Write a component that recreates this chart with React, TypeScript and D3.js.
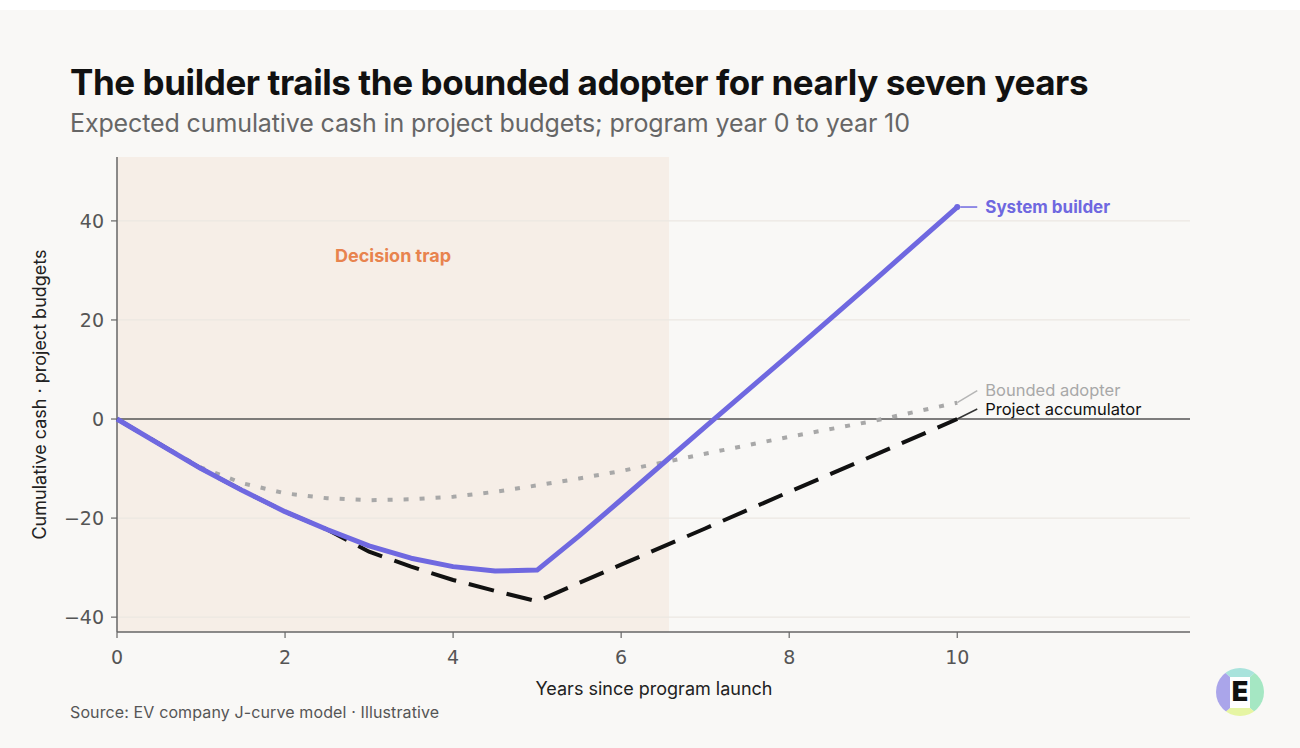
import * as d3 from "d3";

const W = 1300;
const H = 748;

// years since launch
const years = [0, 0.5, 1, 1.5, 2, 2.5, 3, 3.5, 4, 4.5, 5, 5.5, 6, 7, 8, 9, 10];
const systemBuilder = [0, -5, -10, -14.5, -18.7, -22.3, -25.6, -28.1, -29.8, -30.7, -30.5, -23.6, -16.3, -1.6, 13, 27.8, 42.8];
const boundedAdopter = [0, -5, -9.8, -13, -15, -16, -16.4, -16.2, -15.7, -14.7, -13.4, -12, -10.5, -7, -3.6, -0.4, 3.3];
const projectAccumulator = [0, -5, -10, -14.5, -18.7, -22.3, -26.8, -29.8, -32.5, -34.7, -36.8, -33.1, -29.4, -22.1, -14.7, -7.4, 0];

const xTicks = [0, 2, 4, 6, 8, 10];
const yTicks = [-40, -20, 0, 20, 40];
const gridTicks = [-40, -20, 20, 40];
const trapEnd = 6.57;

const FONT = "Inter, 'Noto Sans', sans-serif";
const TICK_FONT = "'DejaVu Sans', sans-serif";

const x = d3.scaleLinear().domain([0, 12.77]).range([117, 1190]);
const y = d3.scaleLinear().domain([-43, 52.9]).range([632, 157]);

const line = d3
  .line<[number, number]>()
  .x((d) => x(d[0]))
  .y((d) => y(d[1]));

const toPts = (vals: number[]): [number, number][] => years.map((yr, i) => [yr, vals[i]]);

const Logo = ({ cx, cy, r }: { cx: number; cy: number; r: number }) => {
  const sx0 = cx - 10, sx1 = cx + 10, sy0 = cy - 15, sy1 = cy + 16;
  const far = r * 2;
  return (
    <g>
      <defs>
        <clipPath id="logoClip">
          <circle cx={cx} cy={cy} r={r} />
        </clipPath>
      </defs>
      <g clipPath="url(#logoClip)">
        <polygon points={`${sx0},${sy0} ${sx1},${sy0} ${cx + far},${cy - far} ${cx - far},${cy - far}`} fill="#a9e3dc" />
        <polygon points={`${sx1},${sy0} ${sx1},${sy1} ${cx + far},${cy + far} ${cx + far},${cy - far}`} fill="#a5e7c3" />
        <polygon points={`${sx0},${sy1} ${sx1},${sy1} ${cx + far},${cy + far} ${cx - far},${cy + far}`} fill="#e6f5a3" />
        <polygon points={`${sx0},${sy0} ${sx0},${sy1} ${cx - far},${cy + far} ${cx - far},${cy - far}`} fill="#aaa5ea" />
        <rect x={sx0} y={sy0} width={sx1 - sx0} height={sy1 - sy0} fill="#ffffff" />
      </g>
      <text x={cx} y={cy + 9} textAnchor="middle" fontFamily={FONT} fontWeight={900} fontSize={27} fill="#111">
        E
      </text>
    </g>
  );
};

export default function App() {
  const sbPts = toPts(systemBuilder);
  const baPts = toPts(boundedAdopter);
  const paPts = toPts(projectAccumulator);
  const xEnd = x(10);
  const sbEndY = y(systemBuilder[systemBuilder.length - 1]);
  const baEndY = y(boundedAdopter[boundedAdopter.length - 1]);
  const paEndY = y(projectAccumulator[projectAccumulator.length - 1]);
  const [yMin, yMax] = y.domain();
  const [xMin, xMax] = x.domain();

  return (
    <div style={{ position: "absolute", left: 0, top: 0, width: W, height: H }}>
      <svg width={W} height={H} style={{ display: "block" }}>
        <rect x={0} y={0} width={W} height={H} fill="#ffffff" />
        <rect x={0} y={10} width={W} height={H - 10} fill="#f9f8f6" />

        {/* title block */}
        <text x={70} y={95} fontFamily={FONT} fontWeight={700} fontSize={35} letterSpacing={-0.42} fill="#111">
          The builder trails the bounded adopter for nearly seven years
        </text>
        <text x={70} y={132} fontFamily={FONT} fontSize={25} letterSpacing={-0.12} fill="#666">
          Expected cumulative cash in project budgets; program year 0 to year 10
        </text>

        {/* decision trap shading */}
        <rect x={x(0)} y={y(yMax)} width={x(trapEnd) - x(0)} height={y(yMin) - y(yMax)} fill="#f6eee7" />
        <text x={(x(0) + x(trapEnd)) / 2} y={262} textAnchor="middle" fontFamily={FONT} fontWeight={700} fontSize={18} fill="#e8834e">
          Decision trap
        </text>

        {/* grid */}
        {gridTicks.map((t) => (
          <line key={t} x1={x(xMin)} x2={x(xMax)} y1={y(t)} y2={y(t)} stroke="#ebe7e2" strokeWidth={1.2} />
        ))}
        <line x1={x(xMin)} x2={x(xMax)} y1={y(0)} y2={y(0)} stroke="#555" strokeWidth={1.5} />

        {/* axes */}
        <line x1={x(xMin)} x2={x(xMin)} y1={y(yMax)} y2={y(yMin)} stroke="#666" strokeWidth={1.5} />
        <line x1={x(xMin)} x2={x(xMax)} y1={y(yMin)} y2={y(yMin)} stroke="#666" strokeWidth={1.5} />
        {yTicks.map((t) => (
          <g key={t}>
            <line x1={x(xMin) - 6} x2={x(xMin)} y1={y(t)} y2={y(t)} stroke="#666" strokeWidth={1.2} />
            <text x={x(xMin) - 13} y={y(t)} dy="0.36em" textAnchor="end" fontFamily={TICK_FONT} fontSize={19} fill="#555">
              {t < 0 ? `\u2212${Math.abs(t)}` : t}
            </text>
          </g>
        ))}
        {xTicks.map((t) => (
          <g key={t}>
            <line x1={x(t)} x2={x(t)} y1={y(yMin)} y2={y(yMin) + 6} stroke="#666" strokeWidth={1.2} />
            <text x={x(t)} y={664} textAnchor="middle" fontFamily={TICK_FONT} fontSize={19} fill="#555">
              {t}
            </text>
          </g>
        ))}
        <text x={654} y={695} textAnchor="middle" fontFamily={FONT} fontSize={18} fill="#222">
          Years since program launch
        </text>
        <text
          transform={`translate(46,${(y(yMax) + y(yMin)) / 2}) rotate(-90)`}
          textAnchor="middle"
          fontFamily={FONT}
          fontSize={18}
          fill="#222"
        >
          Cumulative cash · project budgets
        </text>

        {/* series */}
        <path d={line(baPts) ?? ""} fill="none" stroke="#a8a8a8" strokeWidth={4} strokeDasharray="5,11" />
        <path d={line(paPts) ?? ""} fill="none" stroke="#111" strokeWidth={4} strokeDasharray="26,13" />
        <path d={line(sbPts) ?? ""} fill="none" stroke="#6f68e0" strokeWidth={5} strokeLinejoin="round" />
        <circle cx={xEnd} cy={sbEndY} r={3} fill="#6f68e0" />

        {/* direct labels */}
        <line x1={xEnd + 3} x2={xEnd + 20} y1={sbEndY} y2={sbEndY} stroke="#6f68e0" strokeWidth={1.5} />
        <text x={xEnd + 28} y={sbEndY} dy="0.35em" fontFamily={FONT} fontWeight={700} fontSize={17} fill="#6f68e0">
          System builder
        </text>
        <line x1={xEnd} x2={xEnd + 20} y1={baEndY} y2={baEndY - 12} stroke="#b5b5b5" strokeWidth={1.5} />
        <text x={xEnd + 28} y={baEndY - 12} dy="0.35em" fontFamily={FONT} fontSize={16.5} fill="#a8a8a8">
          Bounded adopter
        </text>
        <line x1={xEnd} x2={xEnd + 20} y1={paEndY} y2={paEndY - 10} stroke="#333" strokeWidth={1.5} />
        <text x={xEnd + 28} y={paEndY - 10} dy="0.35em" fontFamily={FONT} fontSize={16.5} fill="#111">
          Project accumulator
        </text>

        <text x={70} y={718} fontFamily={FONT} fontSize={16} letterSpacing={0.12} fill="#555">
          Source: EV company J-curve model · Illustrative
        </text>

        <Logo cx={1240} cy={692} r={24} />
      </svg>
    </div>
  );
}
